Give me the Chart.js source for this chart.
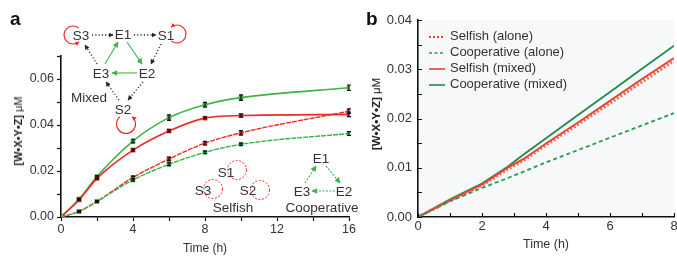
<!DOCTYPE html>
<html><head><meta charset="utf-8">
<script src="https://cdn.jsdelivr.net/npm/chart.js@4"></script>
<style>
body{margin:0;width:677px;height:256px;overflow:hidden;position:relative;background:#fff;font-family:'Liberation Sans',Arial,sans-serif;color:#333}
.abs{position:absolute}
.ytitle{position:absolute;white-space:nowrap;color:#222;transform:translate(-50%,-50%) rotate(-90deg)}
.ytitle b{font-weight:bold}
.plabel{position:absolute;font-weight:bold;font-size:19px;color:#111;line-height:1}
.leg{position:absolute;left:428px;top:28px;font-size:13px;color:#333}
.leg div{height:16px;line-height:16px;white-space:nowrap}
.leg svg{vertical-align:middle;margin-right:4px}
</style>
</head><body>
<div class="abs" style="left:0;top:0;width:360px;height:256px"><canvas id="ca" width="360" height="256"></canvas></div>
<div class="abs" style="left:355px;top:0;width:330px;height:256px"><canvas id="cb" width="330" height="256"></canvas></div>

<div class="plabel" style="left:10px;top:9px">a</div>
<div class="plabel" style="left:366px;top:9px">b</div>
<div class="ytitle" style="left:18px;top:131px;font-size:11px"><b>[W•X•Y•Z]</b> μM</div>
<div class="ytitle" style="left:376px;top:114px;font-size:11.5px"><b>[W•X•Y•Z]</b> μM</div>

<div class="leg">
 <div><svg width="18" height="4"><line x1="1" y1="2" x2="17" y2="2" stroke="#ef3b2c" stroke-width="2" stroke-dasharray="2 2"/></svg>Selfish (alone)</div>
 <div><svg width="18" height="4"><line x1="1" y1="2" x2="17" y2="2" stroke="#2a9a50" stroke-width="1.6" stroke-dasharray="3 2.5"/></svg>Cooperative (alone)</div>
 <div><svg width="18" height="4"><line x1="1" y1="2" x2="17" y2="2" stroke="#ef3b2c" stroke-width="1.6"/></svg>Selfish (mixed)</div>
 <div><svg width="18" height="4"><line x1="1" y1="2" x2="17" y2="2" stroke="#1e8c4e" stroke-width="1.6"/></svg>Cooperative (mixed)</div>
</div>

<svg class="abs" style="left:0;top:0" width="360" height="256" font-family="Liberation Sans, Arial, sans-serif" font-size="13.5" fill="#333">
 <defs>
  <marker id="mk" markerUnits="userSpaceOnUse" markerWidth="5" markerHeight="5" viewBox="0 0 10 10" refX="9" refY="5" orient="auto"><path d="M0,0 L10,5 L0,10 z" fill="#222"/></marker>
  <marker id="mg" markerUnits="userSpaceOnUse" markerWidth="6" markerHeight="6" viewBox="0 0 10 10" refX="9" refY="5" orient="auto"><path d="M0,0 L10,5 L0,10 z" fill="#3cb44a"/></marker>
  <marker id="mr" markerUnits="userSpaceOnUse" markerWidth="4.5" markerHeight="4.5" viewBox="0 0 10 10" refX="9" refY="5" orient="auto"><path d="M0,0 L10,5 L0,10 z" fill="#ee2a24"/></marker>
 </defs>
 <g text-anchor="middle" dominant-baseline="central">
  <text x="81" y="35">S3</text><text x="123" y="34">E1</text><text x="166" y="35">S1</text>
  <text x="101" y="73">E3</text><text x="147" y="73">E2</text><text x="123" y="109">S2</text>
  <text x="89" y="97">Mixed</text>
  <text x="226" y="172">S1</text><text x="203" y="190">S3</text><text x="248" y="190">S2</text>
  <text x="233" y="207">Selfish</text>
  <text x="321" y="158">E1</text><text x="302" y="191">E3</text><text x="344" y="191">E2</text>
  <text x="322" y="207">Cooperative</text>
 </g>
 <g stroke="#222" stroke-width="1.3" stroke-dasharray="1.1 2.2" fill="none">
  <line x1="92" y1="35" x2="113" y2="35" marker-end="url(#mk)"/>
  <line x1="134" y1="35" x2="156" y2="35" marker-end="url(#mk)"/>
  <line x1="161" y1="44" x2="151" y2="64" marker-end="url(#mk)"/>
  <line x1="143" y1="82" x2="128" y2="100" marker-end="url(#mk)"/>
  <line x1="119" y1="100" x2="106" y2="82" marker-end="url(#mk)"/>
  <line x1="97" y1="64" x2="85" y2="45" marker-end="url(#mk)"/>
 </g>
 <g stroke="#3cb44a" stroke-width="1.1" fill="none">
  <line x1="127" y1="42" x2="142" y2="64" marker-end="url(#mg)"/>
  <line x1="137" y1="73" x2="112" y2="73" marker-end="url(#mg)"/>
  <line x1="105" y1="64" x2="118" y2="42" marker-end="url(#mg)"/>
 </g>
 <g stroke="#3cb44a" stroke-width="1.1" stroke-dasharray="2 1.5" fill="none">
  <line x1="326" y1="166" x2="340" y2="183" marker-end="url(#mg)"/>
  <line x1="335" y1="191" x2="312" y2="191" marker-end="url(#mg)"/>
  <line x1="305" y1="183" x2="316" y2="166" marker-end="url(#mg)"/>
 </g>
 <g stroke="#ee2a24" stroke-width="1.1" fill="none">
  <path d="M78.8,28.1 A9,9 0 1 0 78.8,41.9" marker-end="url(#mr)"/>
  <path d="M171.2,40.9 A9,9 0 1 0 171.2,27.1" marker-end="url(#mr)"/>
  <path d="M119.9,116.7 A9.5,9.5 0 1 0 132.1,116.7" marker-end="url(#mr)"/>
 </g>
 <g stroke="#ee2a24" stroke-width="1" stroke-dasharray="2 1.6" fill="none">
  <circle cx="237" cy="170" r="9.5"/>
  <circle cx="213" cy="189" r="9.5"/>
  <circle cx="260" cy="190" r="9.5"/>
 </g>
</svg>

<script>
// ---------- Panel a data ----------
const timesA = [0, 1, 2, 4, 6, 8, 10, 16];
const coopMixedA = [0, 0.0078, 0.0176, 0.0330, 0.0432, 0.0488, 0.0519, 0.0562];
const selfMixedA = [0, 0.0074, 0.0168, 0.0291, 0.0374, 0.0430, 0.0441, 0.0446];
const selfAloneA = [0, 0.0024, 0.0068, 0.0172, 0.0252, 0.0321, 0.0366, 0.0460];
const coopAloneA = [0, 0.0024, 0.0068, 0.0161, 0.0229, 0.0281, 0.0316, 0.0363];
const coopMixedErr = [0, 0.0004, 0.0004, 0.0008, 0.0012, 0.0010, 0.0012, 0.0012];
const selfMixedErr = [0, 0.0003, 0.0003, 0.0005, 0.0005, 0.0004, 0.0006, 0.0010];
const selfAloneErr = [0, 0.0003, 0.0003, 0.0006, 0.0008, 0.0008, 0.0010, 0.0010];
const coopAloneErr = [0, 0.0003, 0.0003, 0.0005, 0.0006, 0.0005, 0.0005, 0.0008];
const yTicksA = [0, 0.02, 0.04, 0.06];
const xTicksA = [0, 4, 8, 12, 16];

// ---------- Panel b data ----------
const timesB = [0, 1, 2, 2.8, 3.3, 4, 5, 6, 7, 8];
const selfAloneB = [0, 0.0033, 0.0064, 0.0097, 0.0115, 0.0146, 0.0188, 0.0231, 0.0274, 0.0318];
const coopAloneB = [0, 0.0032, 0.0059, 0.0079, 0.0092, 0.0111, 0.0136, 0.0161, 0.0186, 0.0211];
const selfMixedB = [0, 0.0034, 0.0066, 0.0100, 0.0118, 0.0149, 0.0192, 0.0236, 0.0280, 0.0323];
const coopMixedB = [0, 0.0036, 0.0068, 0.0102, 0.0127, 0.0160, 0.0207, 0.0254, 0.0301, 0.0348];
const yTicksB = [0, 0.01, 0.02, 0.03, 0.04];
const xTicksB = [0, 2, 4, 6, 8];

const RED = '#ee2a24', GREEN = '#3cb44a';
Chart.defaults.font.family = "'Liberation Sans', Arial, sans-serif";
Chart.defaults.color = '#333';

const pts = (xs, ys) => xs.map((x, i) => ({x, y: ys[i]}));
const near = (v, list) => list.some(t => Math.abs(t - v) < 1e-9);

const errPlugin = {
  id: 'errbars',
  afterDatasetsDraw(chart) {
    const {ctx, scales: {x, y}} = chart;
    ctx.save();
    ctx.strokeStyle = '#111';
    ctx.lineWidth = 1.2;
    chart.data.datasets.forEach(ds => {
      if (!ds.errors) return;
      ds.data.forEach((p, j) => {
        const e = ds.errors[j];
        if (!e) return;
        const px = x.getPixelForValue(p.x);
        const y1 = y.getPixelForValue(p.y - e), y2 = y.getPixelForValue(p.y + e);
        ctx.beginPath();
        ctx.moveTo(px, y1); ctx.lineTo(px, y2);
        ctx.moveTo(px - 2, y1); ctx.lineTo(px + 2, y1);
        ctx.moveTo(px - 2, y2); ctx.lineTo(px + 2, y2);
        ctx.stroke();
      });
    });
    ctx.restore();
  }
};

const bgPlugin = {
  id: 'bgfill',
  beforeDraw(chart) {
    const {ctx, chartArea: a} = chart;
    ctx.save();
    ctx.fillStyle = '#f6f8fa';
    ctx.fillRect(a.left, a.top, a.right - a.left, a.bottom - a.top);
    ctx.restore();
  }
};

// inward tick marks for panel b
const innerTicks = {
  id: 'innerticks',
  afterDraw(chart) {
    const {ctx, chartArea: a, scales: {x, y}} = chart;
    ctx.save();
    ctx.strokeStyle = '#111';
    ctx.lineWidth = 1.2;
    ctx.beginPath();
    x.ticks.forEach(t => {
      const px = Math.round(x.getPixelForValue(t.value)) + 0.5;
      ctx.moveTo(px, a.bottom); ctx.lineTo(px, a.bottom - 4);
    });
    y.ticks.forEach(t => {
      const py = Math.round(y.getPixelForValue(t.value)) + 0.5;
      ctx.moveTo(a.left, py); ctx.lineTo(a.left + 4, py);
    });
    ctx.stroke();
    ctx.restore();
  }
};

function axisCommon(extra, inward) {
  return Object.assign({
    type: 'linear',
    border: {display: true, color: '#111', width: 1.6},
    grid: inward
      ? {display: true, drawOnChartArea: false, drawTicks: false}
      : {display: true, drawOnChartArea: false, drawTicks: true, tickLength: 4, tickColor: '#111', tickWidth: 1.2}
  }, extra);
}

new Chart(document.getElementById('ca'), {
  type: 'line',
  data: {
    datasets: [
      {label: 'Cooperative (alone)', data: pts(timesA, coopAloneA), errors: coopAloneErr, borderColor: GREEN, backgroundColor: GREEN, borderWidth: 1.4, borderDash: [5, 1]},
      {label: 'Selfish (alone)', data: pts(timesA, selfAloneA), errors: selfAloneErr, borderColor: RED, backgroundColor: RED, borderWidth: 1.4, borderDash: [5, 1]},
      {label: 'Selfish (mixed)', data: pts(timesA, selfMixedA), errors: selfMixedErr, borderColor: RED, backgroundColor: RED, borderWidth: 1.6},
      {label: 'Cooperative (mixed)', data: pts(timesA, coopMixedA), errors: coopMixedErr, borderColor: GREEN, backgroundColor: GREEN, borderWidth: 1.6}
    ]
  },
  options: {
    responsive: false, animation: false,
    layout: {padding: {left: 0, right: 11, top: 56, bottom: 0}},
    elements: {line: {cubicInterpolationMode: 'monotone'}, point: {pointStyle: 'rect', radius: 2.2, borderWidth: 0}},
    plugins: {legend: {display: false}, tooltip: {enabled: false}},
    scales: {
      x: axisCommon({
        min: 0, max: 16,
        ticks: {stepSize: 2, autoSkip: false, maxRotation: 0, padding: 1, color: '#333', font: {size: 12.5},
          callback: v => near(v, xTicksA) ? String(v) : ''},
        title: {display: true, text: 'Time (h)', color: '#333', font: {size: 12}, padding: {top: 0, bottom: 0}},
        afterFit: s => { s.height = 39; }
      }),
      y: axisCommon({
        min: 0, max: 0.07,
        ticks: {stepSize: 0.01, autoSkip: false, padding: 3, color: '#333', font: {size: 12.5},
          callback: v => near(v, yTicksA) ? v.toFixed(2) : ''},
        afterFit: s => { s.width = 61; }
      })
    }
  },
  plugins: [errPlugin]
});

new Chart(document.getElementById('cb'), {
  type: 'line',
  data: {
    datasets: [
      {label: 'Cooperative (alone)', data: pts(timesB, coopAloneB), borderColor: '#2a9a50', borderWidth: 1.8, borderDash: [4, 3]},
      {label: 'Selfish (alone)', data: pts(timesB, selfAloneB), borderColor: 'rgba(240,80,55,0.85)', borderWidth: 3, borderDash: [2, 2]},
      {label: 'Selfish (mixed)', data: pts(timesB, selfMixedB), borderColor: '#ef3b2c', borderWidth: 1.8},
      {label: 'Cooperative (mixed)', data: pts(timesB, coopMixedB), borderColor: '#1e8c4e', borderWidth: 1.8}
    ]
  },
  options: {
    responsive: false, animation: false,
    layout: {padding: {left: 0, right: 11, top: 20, bottom: 0}},
    elements: {line: {tension: 0}, point: {radius: 0}},
    plugins: {legend: {display: false}, tooltip: {enabled: false}},
    scales: {
      x: axisCommon({
        min: 0, max: 8,
        ticks: {stepSize: 1, autoSkip: false, maxRotation: 0, padding: 2, color: '#333', font: {size: 13},
          callback: v => near(v, xTicksB) ? String(v) : ''},
        title: {display: true, text: 'Time (h)', color: '#333', font: {size: 12.5}, padding: {top: 0, bottom: 4}},
        afterFit: s => { s.height = 39; }
      }, true),
      y: axisCommon({
        min: 0, max: 0.04,
        ticks: {stepSize: 0.005, autoSkip: false, padding: 6, color: '#333', font: {size: 13},
          callback: v => near(v, yTicksB) ? v.toFixed(2) : ''},
        afterFit: s => { s.width = 63; }
      }, true)
    }
  },
  plugins: [bgPlugin, innerTicks]
});
</script>
</body></html>
